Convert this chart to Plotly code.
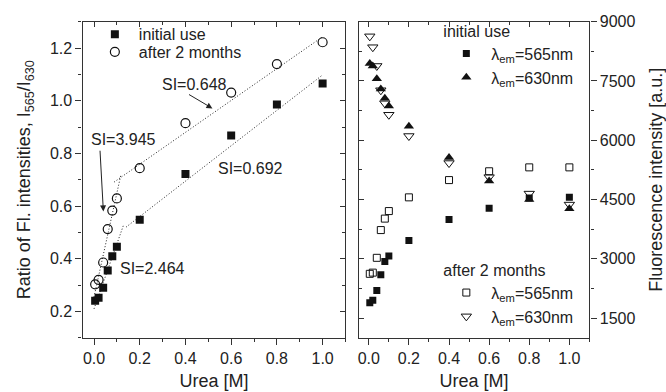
import numpy as np
import plotly.graph_objects as go

# ---------------- data ----------------
urea = [0.005, 0.02, 0.04, 0.06, 0.08, 0.1, 0.2, 0.4, 0.6, 0.8, 1.0]

ratio_initial = [0.241, 0.252, 0.290, 0.356, 0.410, 0.446, 0.548, 0.722, 0.868, 0.986, 1.065]
ratio_after = [0.303, 0.320, 0.386, 0.513, 0.583, 0.629, 0.744, 0.915, 1.031, 1.139, 1.222]

fl565_initial = [1885, 1952, 2200, 2597, 2930, 3068, 3464, 3992, 4282, 4540, 4555]
fl630_initial = [7940, 7880, 7555, 7300, 7060, 6870, 6355, 5562, 4967, 4500, 4265]
fl565_after = [2620, 2650, 3025, 3727, 4017, 4208, 4555, 4992, 5215, 5314, 5314]
fl630_after = [8630, 8355, 7880, 7265, 6935, 6645, 6107, 5423, 5066, 4650, 4372]

# dotted fit segments (left panel): slope, intercept, x start, x end
fit_slopes = [2.464, 0.672, 3.945, 0.605]
fit_intercepts = [0.210, 0.426, 0.255, 0.638]
fit_x_start = [0.0, 0.14, 0.0, 0.088]
fit_x_end = [0.13, 1.0, 0.117, 1.0]

si_labels = ["SI=0.648", "SI=3.945", "SI=0.692", "SI=2.464"]
si_label_x = [0.438, 0.131, 0.683, 0.256]
si_label_y = [1.061, 0.853, 0.744, 0.362]

x_tick_vals = [0.0, 0.2, 0.4, 0.6, 0.8, 1.0]
x_tick_text = ["0.0", "0.2", "0.4", "0.6", "0.8", "1.0"]

FONT = "Liberation Sans, Arial, sans-serif"
AX = "#333333"

fig = go.Figure()

# fit lines
for s, b, x0, x1 in zip(fit_slopes, fit_intercepts, fit_x_start, fit_x_end):
    xs = np.array([x0, x1])
    fig.add_trace(go.Scatter(x=xs, y=b + s * xs, mode="lines",
                             line=dict(color="#222", width=1, dash="1px,2px"),
                             showlegend=False, hoverinfo="skip", xaxis="x", yaxis="y"))

# left panel points
fig.add_trace(go.Scatter(x=urea, y=ratio_initial, mode="markers", name="initial use",
                         marker=dict(symbol="square", size=8, color="#111"),
                         xaxis="x", yaxis="y", legend="legend"))
fig.add_trace(go.Scatter(x=urea, y=ratio_after, mode="markers", name="after 2 months",
                         marker=dict(symbol="circle-open", size=9, color="#111", line=dict(width=1.2)),
                         xaxis="x", yaxis="y", legend="legend4"))

# right panel points
fig.add_trace(go.Scatter(x=urea, y=fl565_initial, mode="markers", name="λ<sub>em</sub>=565nm",
                         marker=dict(symbol="square", size=7, color="#111"),
                         xaxis="x2", yaxis="y2", legend="legend2"))
fig.add_trace(go.Scatter(x=urea, y=fl630_initial, mode="markers", name="λ<sub>em</sub>=630nm",
                         marker=dict(symbol="triangle-up", size=9, color="#111"),
                         xaxis="x2", yaxis="y2", legend="legend2"))
fig.add_trace(go.Scatter(x=urea, y=fl565_after, mode="markers", name="λ<sub>em</sub>=565nm",
                         marker=dict(symbol="square-open", size=7, color="#111", line=dict(width=1)),
                         xaxis="x2", yaxis="y2", legend="legend3"))
fig.add_trace(go.Scatter(x=urea, y=fl630_after, mode="markers", name="λ<sub>em</sub>=630nm",
                         marker=dict(symbol="triangle-down-open", size=9, color="#111", line=dict(width=1)),
                         xaxis="x2", yaxis="y2", legend="legend3"))

# dummy traces to activate the inward-tick mirror axes
fig.add_trace(go.Scatter(x=[None], y=[None], xaxis="x3", yaxis="y3", showlegend=False, hoverinfo="skip"))
fig.add_trace(go.Scatter(x=[None], y=[None], xaxis="x4", yaxis="y4", showlegend=False, hoverinfo="skip"))

W, H = 666, 392
def px(x):
    return x / W
def py(y):
    return 1 - y / H

xdom_l = [px(81.7), px(345)]
xdom_r = [px(358.3), px(589.3)]
ydom = [py(336.7), py(14)]

common_tick = dict(tickfont=dict(family=FONT, size=16, color="#222"),
                   showgrid=False, zeroline=False, linecolor=AX, linewidth=1.3,
                   tickcolor=AX, tickwidth=1.3)

xbase = dict(range=[-0.05, 1.1], tickmode="array", tickvals=x_tick_vals, ticktext=x_tick_text,
             ticks="outside", ticklen=6,
             minor=dict(dtick=0.1, tick0=0, ticks="outside", ticklen=3, tickcolor=AX, tickwidth=1.3),
             showline=True, mirror=True,
             title=dict(text="Urea [M]", font=dict(family=FONT, size=18, color="#222"), standoff=8),
             **common_tick)

def mirror_axis(**kw):
    d = dict(ticks="inside", ticklen=5, showticklabels=False, showgrid=False, zeroline=False,
             tickcolor=AX, tickwidth=1.3, showline=False)
    d.update(kw)
    return d

leg_font = dict(family=FONT, size=16, color="#222")

fig.update_layout(
    width=W, height=H, margin=dict(l=0, r=0, t=0, b=0),
    paper_bgcolor="white", plot_bgcolor="white",
    font=dict(family=FONT, color="#222"),
    xaxis=dict(domain=xdom_l, anchor="y", **xbase),
    xaxis2=dict(domain=xdom_r, anchor="y2", **xbase),
    yaxis=dict(domain=ydom, anchor="x", range=[0.1, 1.3], dtick=0.2, tick0=0, tickformat=".1f",
               ticks="outside", ticklen=6, showline=True, mirror=True,
               minor=dict(dtick=0.1, tick0=0, ticks="outside", ticklen=3, tickcolor=AX, tickwidth=1.3),
               title=dict(text="Ratio of Fl. intensities, I<sub>565</sub>/I<sub>630</sub>",
                          font=dict(family=FONT, size=18, color="#222"), standoff=14),
               **common_tick),
    yaxis2=dict(domain=ydom, anchor="x2", side="right", range=[1000, 9000], dtick=1500, tick0=0,
                ticks="outside", ticklen=6, showline=True, mirror=True,
                minor=dict(dtick=750, tick0=0, ticks="outside", ticklen=3, tickcolor=AX, tickwidth=1.3),
                title=dict(text="Fluorescence intensity [a.u.]",
                           font=dict(family=FONT, size=18, color="#222"), standoff=17),
                **common_tick),
    xaxis3=mirror_axis(overlaying="x", side="top", anchor="y", range=[-0.05, 1.1],
                       tickmode="array", tickvals=x_tick_vals,
                       minor=dict(dtick=0.1, tick0=0, ticks="inside", ticklen=3, tickcolor=AX, tickwidth=1.3)),
    yaxis3=mirror_axis(overlaying="y", side="right", anchor="x", range=[0.1, 1.3], dtick=0.2, tick0=0,
                       minor=dict(dtick=0.1, tick0=0, ticks="inside", ticklen=3, tickcolor=AX, tickwidth=1.3)),
    xaxis4=mirror_axis(overlaying="x2", side="top", anchor="y2", range=[-0.05, 1.1],
                       tickmode="array", tickvals=x_tick_vals,
                       minor=dict(dtick=0.1, tick0=0, ticks="inside", ticklen=3, tickcolor=AX, tickwidth=1.3)),
    yaxis4=mirror_axis(overlaying="y2", side="left", anchor="x2", range=[1000, 9000], dtick=1500, tick0=0,
                       minor=dict(dtick=750, tick0=0, ticks="inside", ticklen=3, tickcolor=AX, tickwidth=1.3)),
    legend=dict(x=px(90), y=py(9.5), xanchor="left", yanchor="top", bgcolor="rgba(0,0,0,0)",
                itemwidth=38, font=leg_font),
    legend4=dict(x=px(90), y=py(27.5), xanchor="left", yanchor="top", bgcolor="rgba(0,0,0,0)",
                 itemwidth=38, font=leg_font),
    legend2=dict(x=px(441), y=py(8), xanchor="left", yanchor="top", bgcolor="rgba(0,0,0,0)",
                 itemwidth=40, title=dict(text="initial use", font=leg_font), font=leg_font),
    legend3=dict(x=px(441), y=py(252), xanchor="left", yanchor="top", bgcolor="rgba(0,0,0,0)",
                 itemwidth=40, title=dict(text="after 2 months", font=leg_font), font=leg_font),
)

ann_font = dict(family=FONT, size=16, color="#222")
for t, xx, yy in zip(si_labels, si_label_x, si_label_y):
    fig.add_annotation(x=xx, y=yy, xref="x", yref="y", text=t, showarrow=False, font=ann_font,
                       xanchor="center", yanchor="middle")
# arrows
fig.add_annotation(x=0.518, y=0.971, ax=0.409, ay=1.027, xref="x", yref="y", axref="x", ayref="y",
                   text="", showarrow=True, arrowhead=2, arrowsize=1.2, arrowwidth=1, arrowcolor="#222")
fig.add_annotation(x=0.041, y=0.580, ax=0.026, ay=0.816, xref="x", yref="y", axref="x", ayref="y",
                   text="", showarrow=True, arrowhead=2, arrowsize=1.2, arrowwidth=1, arrowcolor="#222")

fig.write_html("out.html")
